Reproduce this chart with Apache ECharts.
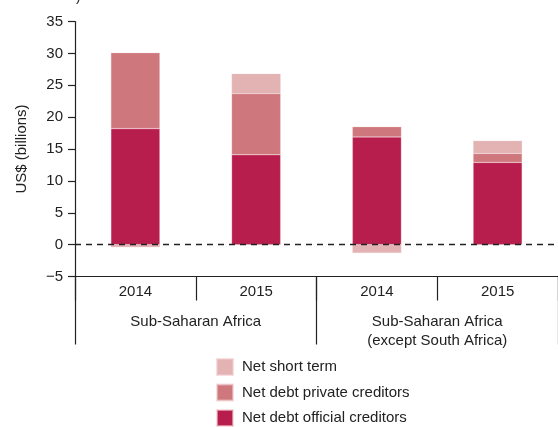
<!DOCTYPE html>
<html><head><meta charset="utf-8">
<script src="https://cdn.jsdelivr.net/npm/echarts@6/dist/echarts.min.js"></script>
<style>html,body{margin:0;padding:0;background:#fff}#c{width:558px;height:427px}</style>
</head><body><div id="c"></div>
<script>
var years = ['2014', '2015', '2014', '2015'];
var groups = ['Sub-Saharan Africa', 'Sub-Saharan Africa\n(except South Africa)'];
var official = [18.2, 14.1, 16.9, 12.9];
var privateCred = [11.9, 9.6, 1.6, 1.4];
var shortTerm = [-0.4, 3.1, -1.3, 2.0];
var yTicks = {min: -5, max: 35, interval: 5};

var font = 'Liberation Sans, Arial, sans-serif';
var fs = 15;
var chart = echarts.init(document.getElementById('c'), null, {renderer: 'canvas'});
var barW = 49;
function bar(name, data, color) {
  return {
    name: name, type: 'bar', stack: 'a', data: data, barWidth: barW,
    itemStyle: {color: color, borderColor: 'rgba(240,200,205,0.6)', borderWidth: 0.5},
    emphasis: {disabled: true}
  };
}
var series = [
  bar('Net debt official creditors', official, '#B71E4D'),
  bar('Net debt private creditors', privateCred, '#CE787E'),
  bar('Net short term', shortTerm, '#E3B3B4')
];
series[0].markLine = {
  silent: true, symbol: 'none', label: {show: false}, z: 10,
  lineStyle: {type: [6, 5], color: '#222', width: 1.3},
  data: [{yAxis: 0}]
};
chart.setOption({
  animation: false,
  textStyle: {fontFamily: font},
  grid: {left: 75, right: 0, top: 21.5, bottom: 150.5, containLabel: false},
  legend: {
    orient: 'vertical', left: 211, top: 353, height: 80, itemWidth: 16, itemHeight: 16, itemGap: 7.5,
    icon: 'rect',
    data: ['Net short term', 'Net debt private creditors', 'Net debt official creditors'],
    textStyle: {fontSize: fs, color: '#222', fontFamily: font, padding: [0, 0, 0, 4]}
  },
  xAxis: [{
    type: 'category', data: years, position: 'bottom',
    axisLine: {show: true, onZero: false, lineStyle: {color: '#222', width: 1.2}},
    axisTick: {show: true, interval: 0, length: 24, lineStyle: {color: '#222', width: 1.2}},
    axisLabel: {fontSize: fs, color: '#222', margin: 8, fontFamily: font}
  }, {
    type: 'category', data: groups, position: 'bottom',
    axisLine: {show: false, onZero: false},
    axisTick: {show: true, interval: 0, length: 68, lineStyle: {color: '#222', width: 1.2}},
    axisLabel: {fontSize: fs, color: '#222', margin: 36, lineHeight: 19, verticalAlign: 'top', fontFamily: font, interval: 0}
  }],
  yAxis: {
    type: 'value', min: yTicks.min, max: yTicks.max, interval: yTicks.interval,
    name: 'US$ (billions)', nameLocation: 'middle', nameGap: 46, nameRotate: 90,
    nameTextStyle: {fontSize: fs, color: '#222', fontFamily: font},
    axisLine: {show: true, lineStyle: {color: '#222', width: 1.2}},
    axisTick: {show: true, length: 7, lineStyle: {color: '#222', width: 1.2}},
    axisLabel: {fontSize: fs, color: '#222', margin: 12, fontFamily: font,
      formatter: function (v) { return v < 0 ? '\u2212' + Math.abs(v) : String(v); }},
    splitLine: {show: false}
  },
  graphic: [{type: 'text', left: 76, top: -10, style: {text: ')', fontSize: 14, fill: '#222', fontFamily: font}}],
  series: series
});
</script></body></html>
